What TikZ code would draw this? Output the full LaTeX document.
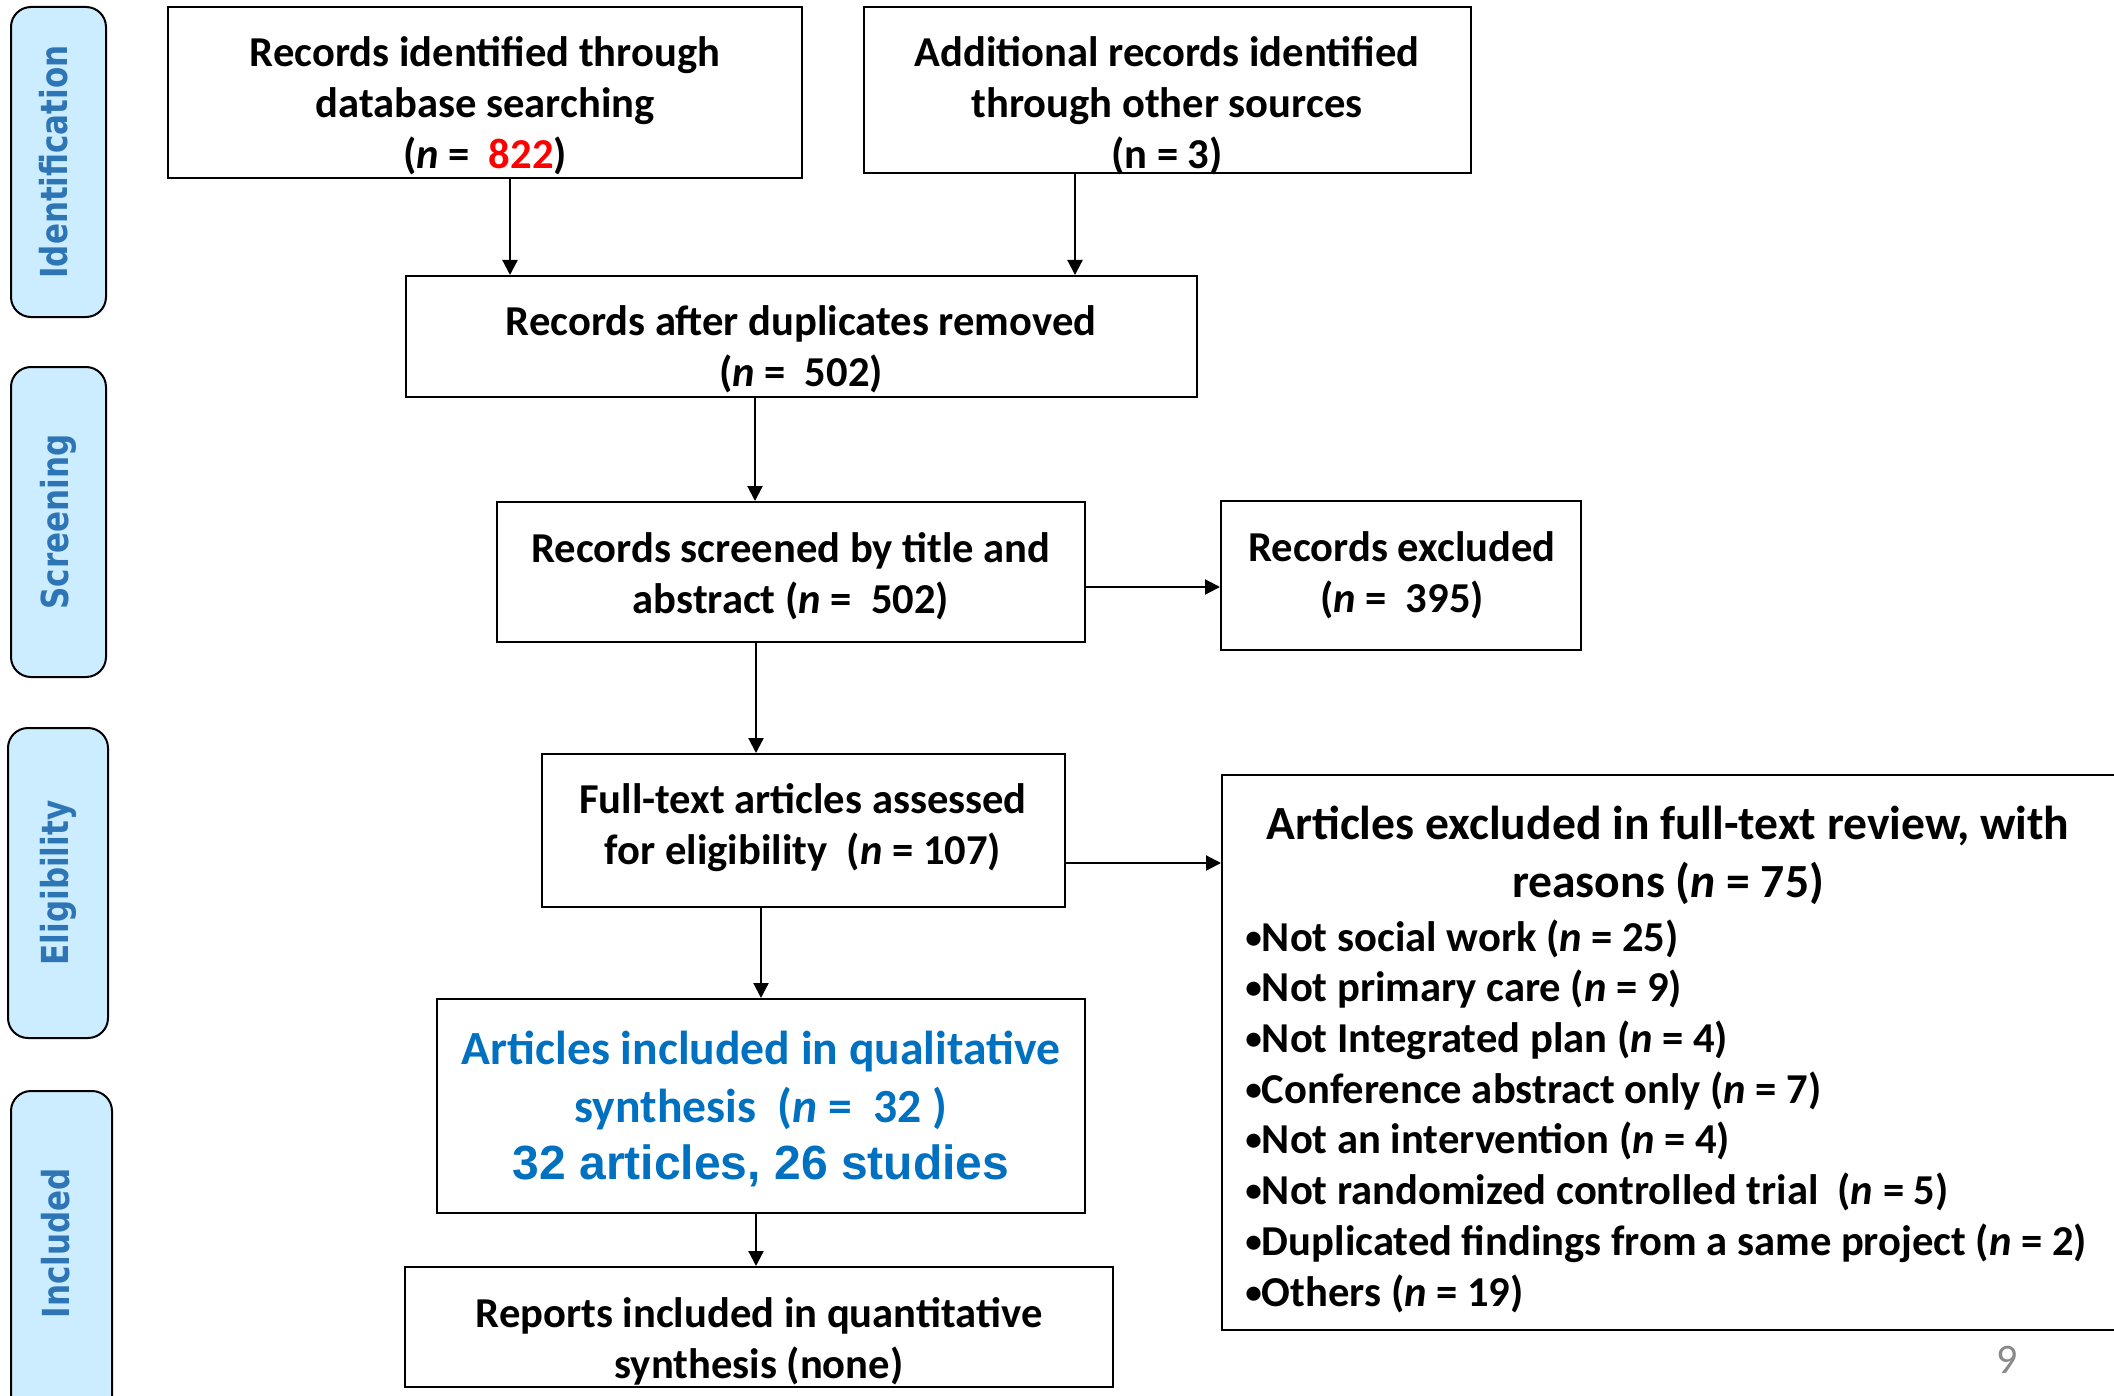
\documentclass[tikz,border=0pt]{standalone}
\usepackage{fontspec}
\usepackage{graphicx}
\setmainfont{Carlito}
\newfontfamily\arialfont{Liberation Sans}
\newfontfamily\labelfont{DejaVu Sans}
\usetikzlibrary{arrows.meta}
\definecolor{qblue}{HTML}{0070C0}
\definecolor{lblue}{HTML}{2E75B6}
\definecolor{lfill}{HTML}{CCECFF}
\definecolor{pgray}{HTML}{898989}
\newcommand{\bul}{\raisebox{0.07em}{\scalebox{0.78}{•}}}
\newcommand{\stretchlab}[1]{\scalebox{1}[1.2]{#1}}
\begin{document}
\begin{tikzpicture}[x=0.5pt,y=-0.5pt,
  bx/.style={draw=black, line width=1pt, inner sep=0pt},
  lab/.style={draw=black, line width=1pt, fill=lfill, rounded corners=10pt, inner sep=0pt},
  labtext/.style={rotate=90, anchor=base, text=lblue, font=\labelfont\bfseries\fontsize{15.5pt}{18pt}\selectfont, inner sep=0pt},
  txt/.style={align=center, inner sep=0pt, font=\bfseries\fontsize{21.3pt}{25.5pt}\selectfont},
  bigtxt/.style={align=center, inner sep=0pt, font=\bfseries\fontsize{23.8pt}{29pt}\selectfont},
  arr/.style={line width=1.1pt, -{Triangle[length=7.5pt,width=7.5pt]}}]
\clip (0,0) rectangle (2114,1396);
\fill[white] (0,0) rectangle (2114,1396);

% side labels
\node[lab, minimum width=47.5pt, minimum height=155pt] (L1) at (58.5,162) {};
\node[lab, minimum width=47.5pt, minimum height=155pt] (L2) at (58.5,522) {};
\node[lab, minimum width=50pt, minimum height=155pt] (L3) at (58,883) {};
\node[lab, minimum width=50.5pt, minimum height=170pt] (L4) at (61.5,1261) {};
\node[labtext] (L1t) at (67,162) {\stretchlab{Identification}};
\node[labtext] (L2t) at (68,522) {\stretchlab{Screening}};
\node[labtext] (L3t) at (68,883) {\stretchlab{Eligibility}};
\node[labtext] (L4t) at (69,1243) {\stretchlab{Included}};

% boxes
\node[bx, minimum width=317pt, minimum height=85.5pt] (b1) at (485,92.5) {};
\node[bx, minimum width=303.5pt, minimum height=83pt] (b2) at (1167.5,90) {};
\node[bx, minimum width=395.5pt, minimum height=60.5pt] (b3) at (801.5,336.5) {};
\node[bx, minimum width=294pt, minimum height=70pt] (b4) at (791,572) {};
\node[bx, minimum width=180pt, minimum height=74.5pt] (b5) at (1401,575.5) {};
\node[bx, minimum width=261.5pt, minimum height=76.5pt] (b6) at (803.5,830.5) {};
\node[bx, minimum width=324pt, minimum height=107pt] (b7) at (761,1106) {};
\node[bx, minimum width=459pt, minimum height=277.5pt] (b8) at (1681,1052.5) {};
\node[bx, minimum width=354pt, minimum height=60pt] (b9) at (759,1327) {};

% texts
\node[txt] (t1) at (485,106) {Records identified through\\database searching\\(\textit{n} =~ {\color{red}822})};
\node[txt] (t2) at (1167,106) {Additional records identified\\through other sources\\(n = 3)};
\node[txt] (t3) at (801,349) {Records after duplicates removed\\(\textit{n} =~ 502)};
\node[txt] (t4) at (791,576) {Records screened by title and\\abstract (\textit{n} =~ 502)};
\node[txt] (t5) at (1402,575) {Records excluded\\(\textit{n} =~ 395)};
\node[txt] (t6) at (803,828) {Full-text articles assessed\\for eligibility~~(\textit{n} = 107)};
\node[bigtxt, text=qblue] (t7a) at (761,1080) {Articles included in qualitative\\synthesis~~(\textit{n} =~ 32 )};
\node[inner sep=0pt, text=qblue, font=\arialfont\bfseries\fontsize{24pt}{28pt}\selectfont] (t7b) at (761,1166) {32 articles, 26 studies};
\node[txt] (t9) at (759,1341) {Reports included in quantitative\\synthesis (none)};
\node[bigtxt] (t8a) at (1668,855) {Articles excluded in full-text review, with\\reasons (\textit{n} = 75)};
\node[align=left, anchor=west, inner sep=0pt, font=\bfseries\fontsize{21.3pt}{25.35pt}\selectfont] (t8b) at (1245,1116) {%
\bul Not social work (\textit{n} = 25)\\
\bul Not primary care (\textit{n} = 9)\\
\bul Not Integrated plan (\textit{n} = 4)\\
\bul Conference abstract only (\textit{n} = 7)\\
\bul Not an intervention (\textit{n} = 4)\\
\bul Not randomized controlled trial~~(\textit{n} = 5)\\
\bul Duplicated findings from a same project (\textit{n} = 2)\\
\bul Others (\textit{n} = 19)};
\node[inner sep=0pt, text=pgray, font=\fontsize{21pt}{25pt}\selectfont] (pg) at (2007,1360) {9};

% connectors
\coordinate (xa) at (510,0);
\coordinate (xb) at (1075,0);
\coordinate (xc) at (755,0);
\coordinate (xd) at (756,0);
\coordinate (xe) at (761,0);
\coordinate (xf) at (756,0);
\coordinate (ya) at (0,587);
\coordinate (yb) at (0,863);
\draw[arr] (b1.south -| xa) -- (b3.north -| xa);
\draw[arr] (b2.south -| xb) -- (b3.north -| xb);
\draw[arr] (b3.south -| xc) -- (b4.north -| xc);
\draw[arr] (b4.east |- ya) -- (b5.west |- ya);
\draw[arr] (b4.south -| xd) -- (b6.north -| xd);
\draw[arr] (b6.east |- yb) -- (b8.west |- yb);
\draw[arr] (b6.south -| xe) -- (b7.north -| xe);
\draw[arr] (b7.south -| xf) -- (b9.north -| xf);
\end{tikzpicture}
\end{document}
